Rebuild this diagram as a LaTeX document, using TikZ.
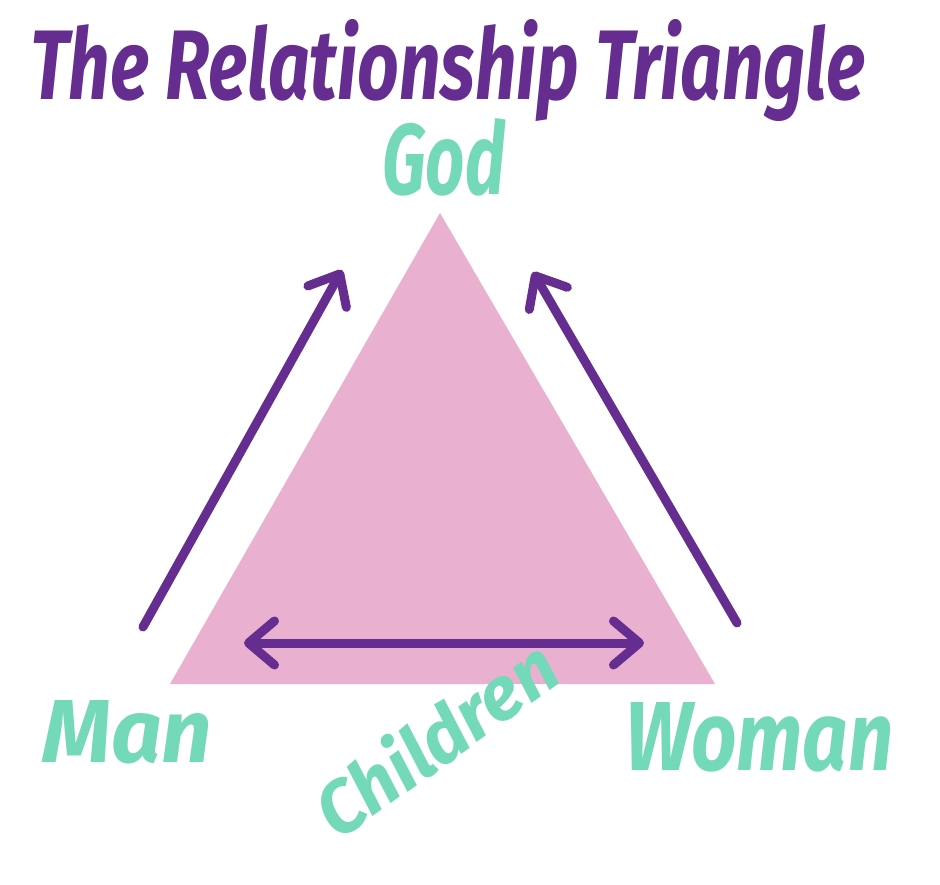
\documentclass[tikz,border=0pt]{standalone}
\usepackage{graphicx}
\usepackage{fontspec}
\setmainfont{Fira Sans}
\usetikzlibrary{arrows.meta}
\definecolor{tripurple}{HTML}{662D91}
\definecolor{trigreen}{HTML}{74D9B8}
\definecolor{tripink}{HTML}{E9B0CF}
\tikzset{
  titletext/.style={text=tripurple, inner sep=0pt, anchor=base west, font=\itshape\bfseries},
  labeltext/.style={text=trigreen, inner sep=0pt, anchor=base west, font=\itshape\bfseries},
  barbtip/.tip={Straight Barb[length=26pt, width=44pt, line width=9pt, round]},
  relarrow/.style={draw=tripurple, line width=9pt, line cap=round, -barbtip},
  relboth/.style={draw=tripurple, line width=9pt, line cap=round, barbtip-barbtip}
}
\begin{document}
\begin{tikzpicture}[x=1pt, y=-1pt]
  \useasboundingbox[fill=white] (0,0) rectangle (940,885);
  % triangle
  \coordinate (apex) at (440,213);
  \coordinate (bl) at (170,684);
  \coordinate (br) at (715,684);
  \fill[tripink] (apex) -- (bl) -- (br) -- cycle;
  % title and labels
  \node[titletext] (title) at (30,100) {\resizebox{835pt}{80pt}{The Relationship Triangle}};
  \node[labeltext] (god) at (382,195) {\resizebox{123pt}{76pt}{God}};
  \node[labeltext] (man) at (42,762) {\resizebox{170pt}{62pt}{Man}};
  \node[labeltext] (woman) at (625,770) {\resizebox{268pt}{68pt}{Woman}};
  \node[labeltext, rotate=35.5] (children) at (338,842) {\resizebox{278pt}{60pt}{Children}};
  % arrows
  \coordinate (manTail) at (143,627);
  \coordinate (manTip) at (342,270);
  \coordinate (womanTail) at (737,623);
  \coordinate (womanTip) at (533,272);
  \coordinate (childL) at (244,643);
  \coordinate (childR) at (644,643);
  \draw[relarrow] (manTail) -- (manTip);
  \draw[relarrow] (womanTail) -- (womanTip);
  \draw[relboth] (childL) -- (childR);
\end{tikzpicture}
\end{document}
